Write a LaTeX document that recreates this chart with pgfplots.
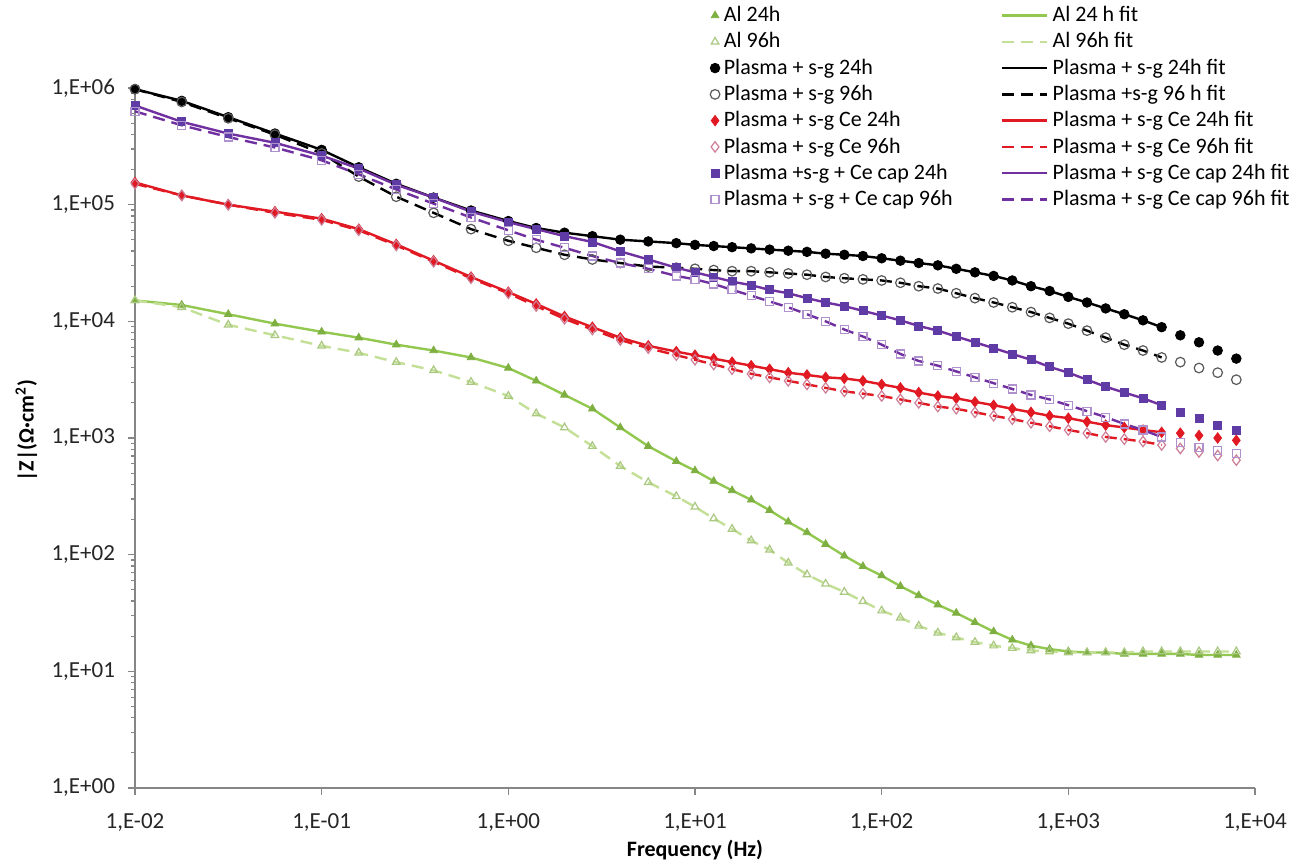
\documentclass[border=0pt]{standalone}
\usepackage{fontspec}
\setmainfont{Carlito}
\usepackage{pgfplots}
\pgfplotsset{compat=1.18}
\usepackage{pgfplotstable}

\definecolor{alg}{RGB}{146,200,80}
\definecolor{algm}{RGB}{125,175,65}
\definecolor{all}{RGB}{196,224,150}
\definecolor{allm}{RGB}{170,200,130}
\definecolor{rd}{RGB}{225,25,35}
\definecolor{pu}{RGB}{112,48,160}
\definecolor{pum}{RGB}{95,60,165}
\definecolor{o96}{RGB}{90,90,90}
\definecolor{c96}{RGB}{205,125,150}
\definecolor{k96}{RGB}{175,145,205}
\definecolor{axgray}{RGB}{134,134,134}

% |Z| (Ohm cm2) vs frequency (Hz)
\pgfplotstableread{
f      a24     a96     p24     p96     c24     c96     k24     k96
0.01   1.51e4  1.51e4  9.77e5  9.77e5  1.55e5  1.51e5  7.08e5  6.31e5
0.0178 1.38e4  1.32e4  7.76e5  7.59e5  1.20e5  1.20e5  5.13e5  4.79e5
0.0316 1.15e4  9.33e3  5.62e5  5.50e5  1.00e5  1.00e5  4.07e5  3.80e5
0.0562 9.55e3  7.59e3  4.07e5  3.98e5  8.71e4  8.51e4  3.39e5  3.09e5
0.1    8.13e3  6.17e3  2.95e5  2.75e5  7.59e4  7.41e4  2.63e5  2.40e5
0.158  7.24e3  5.37e3  2.09e5  1.74e5  6.17e4  6.03e4  2.04e5  1.82e5
0.251  6.31e3  4.47e3  1.51e5  1.17e5  4.57e4  4.47e4  1.48e5  1.35e5
0.398  5.62e3  3.80e3  1.15e5  8.51e4  3.31e4  3.24e4  1.15e5  1.02e5
0.631  4.90e3  3.02e3  8.91e4  6.17e4  2.40e4  2.34e4  8.71e4  7.76e4
1      3.98e3  2.29e3  7.24e4  4.90e4  1.78e4  1.74e4  7.08e4  6.03e4
1.41   3.09e3  1.62e3  6.31e4  4.27e4  1.41e4  1.35e4  6.17e4  5.01e4
2.00   2.34e3  1.23e3  5.75e4  3.72e4  1.10e4  1.05e4  5.37e4  4.27e4
2.82   1.78e3  851     5.37e4  3.39e4  8.91e3  8.51e3  4.79e4  3.63e4
3.98   1.23e3  575     5.01e4  3.16e4  7.24e3  6.92e3  3.98e4  3.16e4
5.62   851     417     4.84e4  2.95e4  6.17e3  5.89e3  3.39e4  2.82e4
7.94   631     316     4.68e4  2.88e4  5.50e3  5.13e3  2.88e4  2.45e4
10     525     257     4.52e4  2.82e4  5.13e3  4.68e3  2.63e4  2.29e4
12.6   427     204     4.42e4  2.75e4  4.79e3  4.27e3  2.40e4  2.09e4
15.8   355     166     4.32e4  2.69e4  4.47e3  3.89e3  2.19e4  1.86e4
20.0   295     132     4.22e4  2.69e4  4.17e3  3.55e3  2.04e4  1.66e4
25.1   240     110     4.12e4  2.63e4  3.89e3  3.31e3  1.86e4  1.48e4
31.6   191     85.1    4.03e4  2.57e4  3.63e3  3.09e3  1.74e4  1.32e4
39.8   155     67.6    3.94e4  2.51e4  3.47e3  2.88e3  1.58e4  1.15e4
50.1   123     56.2    3.80e4  2.40e4  3.31e3  2.69e3  1.45e4  1.00e4
63.1   97.7    47.9    3.72e4  2.34e4  3.24e3  2.51e3  1.35e4  8.51e3
79.4   79.4    39.8    3.63e4  2.29e4  3.09e3  2.40e3  1.23e4  7.41e3
100    66.1    33.1    3.47e4  2.24e4  2.88e3  2.29e3  1.12e4  6.31e3
126    53.7    28.8    3.31e4  2.14e4  2.69e3  2.14e3  1.02e4  5.25e3
158    44.7    24.5    3.16e4  2.00e4  2.45e3  2.00e3  9.12e3  4.57e3
200    37.2    21.4    3.02e4  1.91e4  2.29e3  1.86e3  8.32e3  4.17e3
251    31.6    19.5    2.82e4  1.74e4  2.19e3  1.78e3  7.41e3  3.72e3
316    26.3    17.8    2.63e4  1.58e4  2.04e3  1.66e3  6.61e3  3.31e3
398    21.9    16.6    2.45e4  1.45e4  1.91e3  1.55e3  5.89e3  2.95e3
501    18.6    15.8    2.24e4  1.32e4  1.78e3  1.45e3  5.25e3  2.63e3
631    16.6    15.1    2.00e4  1.20e4  1.66e3  1.35e3  4.68e3  2.34e3
794    15.5    14.8    1.82e4  1.07e4  1.55e3  1.26e3  4.07e3  2.14e3
1000   14.8    14.5    1.62e4  9.55e3  1.48e3  1.17e3  3.63e3  1.91e3
1259   14.5    14.5    1.45e4  8.32e3  1.38e3  1.10e3  3.16e3  1.70e3
1585   14.5    14.5    1.29e4  7.24e3  1.29e3  1.02e3  2.75e3  1.51e3
1995   14.1    14.5    1.15e4  6.31e3  1.23e3  977     2.45e3  1.32e3
2512   14.1    14.8    1.02e4  5.62e3  1.17e3  933     2.19e3  1.17e3
3162   14.1    14.8    8.91e3  4.90e3  1.12e3  871     1.91e3  1.02e3
3981   14.1    14.8    7.59e3  4.47e3  1.10e3  813     1.66e3  912
5012   13.8    14.8    6.61e3  3.98e3  1.05e3  759     1.48e3  832
6310   13.8    14.8    5.62e3  3.63e3  1.00e3  708     1.29e3  776
7943   13.8    14.8    4.79e3  3.16e3  955     646     1.17e3  741
}\eis

\pgfplotsset{
  fitleg/.style={legend image code/.code={\draw[##1] (0cm,0cm) -- (0.8cm,0cm);}},
  fit/.style={no marks, line width=1.2pt, fitleg},
  dsh/.style={dash pattern=on 6pt off 3.5pt},
  short/.style={skip coords between index={42}{46}},
}

\begin{document}
\begin{tikzpicture}
\path[use as bounding box, fill=white] (-67.5pt,-37pt) rectangle (580.5pt,394pt);
\begin{axis}[
  at={(0,0)}, anchor=south west,
  scale only axis, width=560pt, height=350pt,
  xmode=log, ymode=log,
  xmin=1e-2, xmax=1e4, ymin=1, ymax=1e6,
  clip=false,
  axis x line*=bottom, axis y line*=left,
  axis line style={axgray, line width=0.8pt},
  tick align=outside,
  major tick length=3.5pt, minor tick length=2pt,
  every tick/.append style={axgray, line width=0.6pt},
  xminorticks=false,
  xtick={1e-2,1e-1,1,1e1,1e2,1e3,1e4},
  xticklabels={{1,E-02},{1,E-01},{1,E+00},{1,E+01},{1,E+02},{1,E+03},{1,E+04}},
  ytick={1,1e1,1e2,1e3,1e4,1e5,1e6},
  yticklabels={{1,E+00},{1,E+01},{1,E+02},{1,E+03},{1,E+04},{1,E+05},{1,E+06}},
  tick label style={font=\fontsize{11.5}{14}\selectfont, text=black!85},
  x tick label style={yshift=-6pt},
  y tick label style={xshift=-3pt},
  label style={font=\fontsize{11}{13}\selectfont\bfseries},
  xlabel={Frequency (Hz)},
  ylabel={|Z|(Ω·cm\textsuperscript{2})},
  xlabel style={at={(axis description cs:0.5,0)}, anchor=center, yshift=-31pt},
  ylabel style={at={(axis description cs:-0.097,0.51)}, anchor=center},
  legend columns=2,
  legend cell align=left,
  legend style={at={(axis description cs:1.0366,1.1257)}, anchor=north east,
    draw=none, fill=none, inner sep=1pt,
    font=\fontsize{11}{13}\selectfont, row sep=0pt,
    /tikz/every even column/.append style={column sep=22pt}},
]
\addplot[only marks, mark=triangle*, mark size=2.2pt, mark options={draw=algm, fill=algm}] table[x=f, y=a24] {\eis};
\addplot[fit, alg] table[x=f, y=a24] {\eis};
\addplot[only marks, mark=triangle, mark size=2.2pt, mark options={draw=allm, line width=0.6pt}] table[x=f, y=a96] {\eis};
\addplot[fit, all, dsh] table[x=f, y=a96] {\eis};
\addplot[only marks, mark=*, mark size=2.4pt, mark options={draw=black, fill=black}] table[x=f, y=p24] {\eis};
\addplot[fit, black, short] table[x=f, y=p24] {\eis};
\addplot[only marks, mark=o, mark size=2.4pt, mark options={draw=o96, line width=0.6pt}] table[x=f, y=p96] {\eis};
\addplot[fit, black, dsh, short] table[x=f, y=p96] {\eis};
\addplot[only marks, mark=diamond*, mark size=2.6pt, mark options={draw=rd, fill=rd}] table[x=f, y=c24] {\eis};
\addplot[fit, rd, short] table[x=f, y=c24] {\eis};
\addplot[only marks, mark=diamond, mark size=2.6pt, mark options={draw=c96, line width=0.6pt}] table[x=f, y=c96] {\eis};
\addplot[fit, rd, dsh, short] table[x=f, y=c96] {\eis};
\addplot[only marks, mark=square*, mark size=2pt, mark options={draw=pum, fill=pum}] table[x=f, y=k24] {\eis};
\addplot[fit, pu, short] table[x=f, y=k24] {\eis};
\addplot[only marks, mark=square, mark size=2pt, mark options={draw=k96, line width=0.6pt}] table[x=f, y=k96] {\eis};
\addplot[fit, pu, dsh, short] table[x=f, y=k96] {\eis};
\legend{Al 24h, Al 24 h fit, Al 96h, Al 96h fit,
  Plasma + s-g 24h, Plasma + s-g 24h fit,
  Plasma + s-g 96h, Plasma +s-g 96 h fit,
  Plasma + s-g Ce 24h, Plasma + s-g Ce 24h fit,
  Plasma + s-g Ce 96h, Plasma + s-g Ce 96h fit,
  Plasma +s-g + Ce cap 24h, Plasma + s-g Ce cap 24h fit,
  Plasma + s-g + Ce cap 96h, Plasma + s-g Ce cap 96h fit}
\end{axis}
\end{tikzpicture}
\end{document}
